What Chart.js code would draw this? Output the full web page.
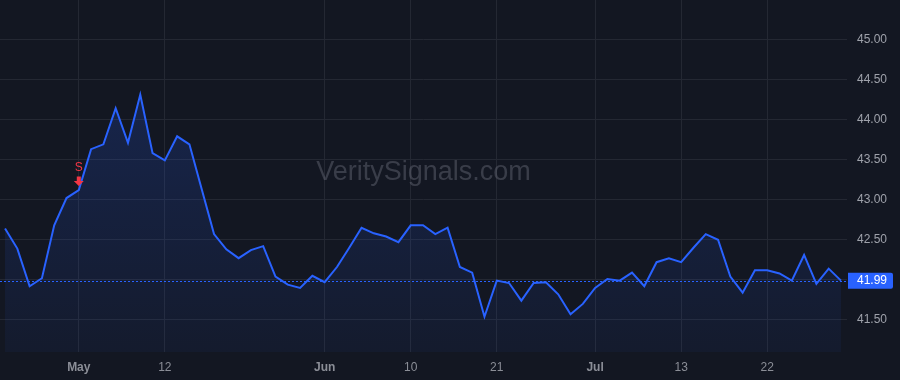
<!DOCTYPE html>
<html>
<head>
<meta charset="utf-8">
<script src="https://cdn.jsdelivr.net/npm/chart.js@4"></script>
<style>
    html, body { margin: 0; padding: 0; background: #131722; }
    #wrap { width: 900px; height: 380px; }
</style>
</head>
<body>
<div id="wrap"><canvas id="priceChart"></canvas></div>
<script>
// Daily closes, one per trading session
const values = [42.64, 42.39, 41.92, 42.02, 42.68, 43.02, 43.12, 43.63, 43.69, 44.14,
    43.71, 44.31, 43.58, 43.49, 43.79, 43.69, 43.13, 42.57, 42.38, 42.27,
    42.37, 42.42, 42.04, 41.94, 41.90, 42.05, 41.97, 42.16, 42.40, 42.65,
    42.58, 42.54, 42.47, 42.68, 42.68, 42.57, 42.65, 42.16, 42.09, 41.54,
    41.99, 41.96, 41.74, 41.96, 41.97, 41.82, 41.57, 41.70, 41.90, 42.01,
    41.99, 42.09, 41.92, 42.22, 42.27, 42.22, 42.40, 42.57, 42.50, 42.04,
    41.84, 42.12, 42.12, 42.08, 41.99, 42.31, 41.95, 42.14, 41.99];

// Session index of each date label on the time axis
const tickIndex = [6, 13, 26, 33, 40, 48, 55, 62];
const tickText = ['May', '12', 'Jun', '10', '21', 'Jul', '13', '22'];
const monthNames = ['May', 'Jun', 'Jul'];

// Price axis labels
const yTicks = [41.5, 42.0, 42.5, 43.0, 43.5, 44.0, 44.5, 45.0];

// Sell signal
const signalIndex = 6;
const signalText = 'S';

const FONT = '"Liberation Sans", Arial, sans-serif';
const BLUE = '#2962ff';
const RED = '#f23645';
const GRID = '#242833';

const lastPrice = values[values.length - 1];

const overlay = {
    id: 'overlay',
    beforeDraw(chart) {
        const ctx = chart.ctx;
        ctx.save();
        ctx.fillStyle = '#131722';
        ctx.fillRect(0, 0, chart.width, chart.height);
        ctx.restore();
    },
    beforeDatasetsDraw(chart) {
        const ctx = chart.ctx;
        const a = chart.chartArea;
        ctx.save();
        ctx.font = '27px ' + FONT;
        ctx.fillStyle = 'rgba(120, 124, 138, 0.38)';
        ctx.textAlign = 'center';
        ctx.textBaseline = 'middle';
        ctx.fillText('VeritySignals.com', (a.left + a.right) / 2, 173);
        ctx.restore();
    },
    afterDatasetsDraw(chart) {
        const ctx = chart.ctx;
        const a = chart.chartArea;
        const x = chart.scales.x;
        const y = chart.scales.y;

        // last price dotted line
        const py = Math.round(y.getPixelForValue(lastPrice)) + 0.5;
        ctx.save();
        ctx.strokeStyle = BLUE;
        ctx.lineWidth = 1;
        ctx.setLineDash([2, 2]);
        ctx.beginPath();
        ctx.moveTo(a.left, py);
        ctx.lineTo(a.right, py);
        ctx.stroke();
        ctx.restore();

        // sell marker above the point
        const sx = x.getPixelForValue(signalIndex);
        const sy = y.getPixelForValue(values[signalIndex]);
        ctx.save();
        ctx.fillStyle = RED;
        ctx.beginPath();
        ctx.rect(sx - 2, sy - 13.5, 4, 5);
        ctx.moveTo(sx - 5, sy - 9);
        ctx.lineTo(sx + 5, sy - 9);
        ctx.lineTo(sx, sy - 4);
        ctx.closePath();
        ctx.fill();
        ctx.font = '12px ' + FONT;
        ctx.textAlign = 'center';
        ctx.textBaseline = 'middle';
        ctx.fillText(signalText, sx, sy - 22);
        ctx.restore();
    },
    afterDraw(chart) {
        const ctx = chart.ctx;
        const a = chart.chartArea;
        const y = chart.scales.y;
        const py = y.getPixelForValue(lastPrice);
        ctx.save();
        ctx.fillStyle = BLUE;
        ctx.beginPath();
        ctx.roundRect(a.right + 1, py - 8, 45, 16, [0, 2, 2, 0]);
        ctx.fill();
        ctx.fillStyle = '#ffffff';
        ctx.font = '12px ' + FONT;
        ctx.textAlign = 'left';
        ctx.textBaseline = 'middle';
        ctx.fillText(lastPrice.toFixed(2), a.right + 10, py + 0.5);
        ctx.restore();
    }
};

const chart = new Chart(document.getElementById('priceChart'), {
    type: 'line',
    data: {
        datasets: [{
            data: values.map((v, i) => ({ x: i, y: v })),
            borderColor: BLUE,
            borderWidth: 2,
            pointRadius: 0,
            tension: 0,
            fill: 'start',
            backgroundColor: function(context) {
                const area = context.chart.chartArea;
                if (!area) return 'rgba(41,98,255,0.1)';
                const g = context.chart.ctx.createLinearGradient(0, area.top + 90, 0, area.bottom);
                g.addColorStop(0, 'rgba(41, 98, 255, 0.19)');
                g.addColorStop(1, 'rgba(41, 98, 255, 0.05)');
                return g;
            }
        }]
    },
    options: {
        responsive: true,
        maintainAspectRatio: false,
        animation: false,
        layout: { padding: 0 },
        plugins: {
            legend: { display: false },
            tooltip: { enabled: false }
        },
        scales: {
            x: {
                type: 'linear',
                min: -0.41,
                max: 68.49,
                afterBuildTicks: function(scale) {
                    scale.ticks = tickIndex.map(v => ({ value: v }));
                },
                afterFit: function(scale) {
                    scale.height = 28;
                    scale.paddingLeft = 0;
                    scale.paddingRight = 0;
                },
                grid: {
                    color: GRID,
                    drawTicks: false
                },
                border: { display: false },
                ticks: {
                    autoSkip: false,
                    maxRotation: 0,
                    padding: 8,
                    color: '#8b8e97',
                    font: function(ctx) {
                        const bold = ctx.tick && monthNames.includes(ctx.tick.label);
                        return { family: FONT, size: 12, weight: bold ? 'bold' : 'normal' };
                    },
                    callback: function(v) {
                        const k = tickIndex.indexOf(v);
                        return k >= 0 ? tickText[k] : '';
                    }
                }
            },
            y: {
                position: 'right',
                min: 41.10,
                max: 45.49,
                afterBuildTicks: function(scale) {
                    scale.ticks = yTicks.map(v => ({ value: v }));
                },
                afterFit: function(scale) {
                    scale.width = 53;
                    scale.paddingTop = 0;
                    scale.paddingBottom = 0;
                },
                grid: {
                    color: GRID,
                    drawTicks: false
                },
                border: { display: false },
                ticks: {
                    padding: 10,
                    color: '#9fa2ab',
                    font: { family: FONT, size: 12 },
                    callback: v => v.toFixed(2)
                }
            }
        }
    },
    plugins: [overlay]
});
</script>
</body>
</html>
